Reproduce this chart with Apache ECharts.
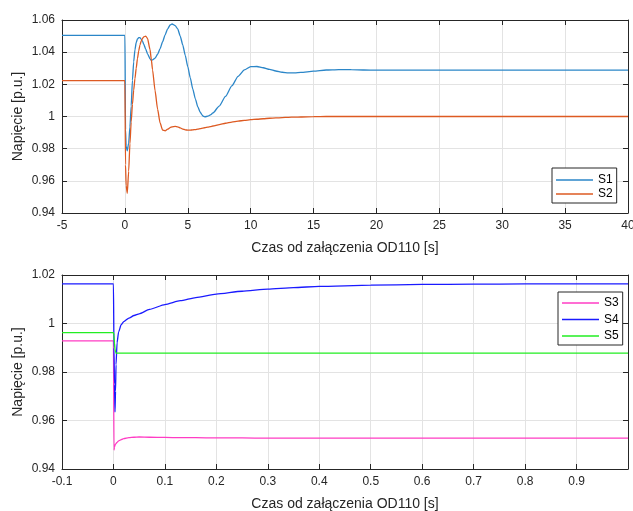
<!DOCTYPE html>
<html>
<head>
<meta charset="utf-8">
<script src="https://cdn.jsdelivr.net/npm/echarts@6/dist/echarts.min.js"></script>
<style>
  html, body { margin: 0; padding: 0; background: #fff; }
  #main { width: 633px; height: 511px; }
</style>
</head>
<body>
<div id="main"></div>
<script>
// upper plot: time [s], voltages [p.u.]
var tTop = [-5, 0, 0.05, 0.1, 0.19, 0.3, 0.4, 0.5, 0.6, 0.7, 0.8, 0.9, 1.0, 1.1, 1.2, 1.3, 1.4, 1.5,
  1.66, 1.8, 2.0, 2.1, 2.2, 2.4, 2.6, 2.8, 3.0, 3.2, 3.4, 3.6, 3.75, 4.0, 4.2, 4.4, 4.6, 4.8, 5.0,
  5.2, 5.4, 5.6, 5.8, 6.0, 6.2, 6.35, 6.6, 6.8, 7.0, 7.5, 8, 8.5, 9, 9.5, 10, 10.5, 11, 11.5, 12,
  12.5, 13, 13.5, 14, 15, 16, 17, 18, 19, 20, 25, 30, 35, 40];
var s1 = [1.0505, 1.0505, 0.992, 0.9815, 0.9787, 0.9835, 0.9935, 1.0065, 1.0225, 1.0340, 1.0415,
  1.0460, 1.0482, 1.0491, 1.0490, 1.0480, 1.0468, 1.0450, 1.0418, 1.0390, 1.0358, 1.0350, 1.0352,
  1.0363, 1.0387, 1.0422, 1.0465, 1.0508, 1.0545, 1.0569, 1.0575, 1.0565, 1.0545, 1.0500, 1.0445,
  1.0380, 1.0310, 1.0240, 1.0170, 1.0110, 1.0060, 1.0025, 1.0003, 0.9998, 1.0002, 1.0010, 1.0022,
  1.0065, 1.0125, 1.0190, 1.0250, 1.0290, 1.0310, 1.0311, 1.0303, 1.0293, 1.0283, 1.0275, 1.0271,
  1.0271, 1.0274, 1.0282, 1.0289, 1.0292, 1.0291, 1.0289, 1.0288, 1.0288, 1.0288, 1.0288, 1.0288];
var s2 = [1.0223, 1.0223, 0.970, 0.957, 0.9522, 0.966, 0.983, 0.9965, 1.0075, 1.0165, 1.0235,
  1.0300, 1.0360, 1.0408, 1.0445, 1.0470, 1.0485, 1.0495, 1.0500, 1.0485, 1.0415, 1.0355, 1.0290,
  1.0160, 1.0045, 0.9960, 0.9915, 0.9911, 0.9921, 0.9931, 0.9936, 0.9938, 0.9935, 0.9929, 0.9922,
  0.9917, 0.9915, 0.9915, 0.9917, 0.9919, 0.9922, 0.9925, 0.9928, 0.9930, 0.9934, 0.9937, 0.9941,
  0.9950, 0.9958, 0.9965, 0.9971, 0.9976, 0.9980, 0.9983, 0.9986, 0.9989, 0.9991, 0.9993, 0.9995,
  0.9996, 0.9997, 0.9999, 1.0, 1.0, 1.0, 1.0, 1.0, 1.0, 1.0, 1.0, 1.0];

// lower plot
var tBot = [-0.1, 0, 0.001, 0.002, 0.003, 0.004, 0.005, 0.007, 0.01, 0.015, 0.02, 0.03, 0.04, 0.05,
  0.07, 0.1, 0.13, 0.16, 0.2, 0.25, 0.3, 0.35, 0.4, 0.5, 0.6, 0.7, 0.8, 0.9, 1.0];
var s3 = [0.9928, 0.9928, 0.9478, 0.9490, 0.9498, 0.9502, 0.9505, 0.9510, 0.9516, 0.9521, 0.9525,
  0.9529, 0.9531, 0.9532, 0.9531, 0.9530, 0.9529, 0.9529, 0.9528, 0.9528, 0.9527, 0.9527, 0.9527,
  0.9527, 0.9527, 0.9527, 0.9527, 0.9527, 0.9527];
var s4 = [1.0163, 1.0163, 0.990, 0.975, 0.9635, 0.972, 0.983, 0.992, 0.9965, 0.9995, 1.0008,
  1.0022, 1.0033, 1.0040, 1.0058, 1.0078, 1.0094, 1.0107, 1.0121, 1.0133, 1.0142, 1.0148, 1.0153,
  1.0158, 1.0161, 1.0162, 1.0163, 1.0163, 1.0163];
var s5 = [0.9962, 0.9962, 0.9950, 0.9920, 0.9895, 0.9882, 0.9878, 0.9878, 0.9878, 0.9878, 0.9878,
  0.9878, 0.9878, 0.9878, 0.9878, 0.9878, 0.9878, 0.9878, 0.9878, 0.9878, 0.9878, 0.9878, 0.9878,
  0.9878, 0.9878, 0.9878, 0.9878, 0.9878, 0.9878];

var xName = 'Czas od załączenia OD110 [s]';
var yName = 'Napięcie [p.u.]';
var ink = '#262626';
var font = 'Liberation Sans, Arial, sans-serif';

function pairs(t, v) {
  return t.map(function (x, i) { return [x, v[i]] })
}

function tick() {
  return { inside: true, length: 5, lineStyle: { color: ink } }
}

// the labelled axis of a plot
function mainAxis(grid, range, pos, fmt, extra) {
  var a = {
    gridIndex: grid, type: 'value', position: pos,
    min: range[0], max: range[1], interval: range[2],
    axisLine: { onZero: false, lineStyle: { color: ink, width: 1 } },
    axisTick: tick(),
    axisLabel: { color: ink, fontSize: 12, fontFamily: font, margin: 7, formatter: fmt },
    splitLine: { show: true, lineStyle: { color: '#e3e3e3', width: 1 } }
  }
  for (var k in extra) a[k] = extra[k]
  return a
}

// the opposite box side, ticks only
function boxAxis(grid, range, pos) {
  return {
    gridIndex: grid, type: 'value', position: pos,
    min: range[0], max: range[1], interval: range[2],
    axisLine: { onZero: false, lineStyle: { color: ink, width: 1 } },
    axisTick: tick(),
    axisLabel: { show: false },
    splitLine: { show: false }
  }
}

var fmt0 = function (v) { return String(+v.toFixed(0)) }
var fmt1 = function (v) { return String(+v.toFixed(1)) }
var fmt2 = function (v) { return String(+v.toFixed(2)) }

var xNameOpts = {
  name: xName, nameLocation: 'middle', nameGap: 28, nameMoveOverlap: false,
  nameTextStyle: { color: ink, fontSize: 14, fontFamily: font }
}
var yNameOpts = {
  name: yName, nameLocation: 'middle', nameGap: 37, nameMoveOverlap: false,
  nameTextStyle: { color: ink, fontSize: 14, fontFamily: font }
}

var xTop = [-5, 40, 5], yTop = [0.94, 1.06, 0.02]
var xBot = [-0.1, 1.0, 0.1], yBot = [0.94, 1.02, 0.02]

function line(name, t, v, color, xi, yi) {
  return {
    name: name, type: 'line', xAxisIndex: xi, yAxisIndex: yi,
    data: pairs(t, v), symbol: 'none', smooth: 0.2, smoothMonotone: 'x',
    lineStyle: { color: color, width: 1.3 }, itemStyle: { color: color },
    clip: true
  }
}

function legendBox(names, left, top, gap, pad) {
  return {
    data: names, orient: 'vertical', left: left, top: top,
    icon: 'rect', itemWidth: 37, itemHeight: 1.5, itemGap: gap,
    padding: pad,
    borderColor: ink, borderWidth: 1, borderRadius: 0, backgroundColor: '#fff',
    textStyle: { color: '#000', fontSize: 12, fontFamily: font }
  }
}

var chart = echarts.init(document.getElementById('main'))
chart.setOption({
  animation: false,
  backgroundColor: '#fff',
  grid: [
    { left: 62, right: 5, top: 20, height: 193, containLabel: false, outerBoundsMode: 'none' },
    { left: 62, right: 5, top: 275, height: 194, containLabel: false, outerBoundsMode: 'none' }
  ],
  xAxis: [
    mainAxis(0, xTop, 'bottom', fmt0, xNameOpts),
    boxAxis(0, xTop, 'top'),
    mainAxis(1, xBot, 'bottom', fmt1, Object.assign({}, xNameOpts)),
    boxAxis(1, xBot, 'top')
  ],
  yAxis: [
    mainAxis(0, yTop, 'left', fmt2, yNameOpts),
    boxAxis(0, yTop, 'right'),
    mainAxis(1, yBot, 'left', fmt2, Object.assign({}, yNameOpts)),
    boxAxis(1, yBot, 'right')
  ],
  legend: [
    legendBox(['S1', 'S2'], 552, 168, 2, [6, 4, 3, 4]),
    legendBox(['S3', 'S4', 'S5'], 558, 292, 4.5, [5, 4, 3, 4])
  ],
  series: [
    line('S1', tTop, s1, '#2b86c8', 0, 0),
    line('S2', tTop, s2, '#dd5a22', 0, 0),
    line('S3', tBot, s3, '#ff3cc4', 2, 2),
    line('S4', tBot, s4, '#1a1aff', 2, 2),
    line('S5', tBot, s5, '#22ee22', 2, 2)
  ]
})
// the last lower tick ("1") is not labelled in the original
chart.setOption({ xAxis: [{}, {}, { axisLabel: { showMaxLabel: false } }, {}] })
</script>
</body>
</html>
